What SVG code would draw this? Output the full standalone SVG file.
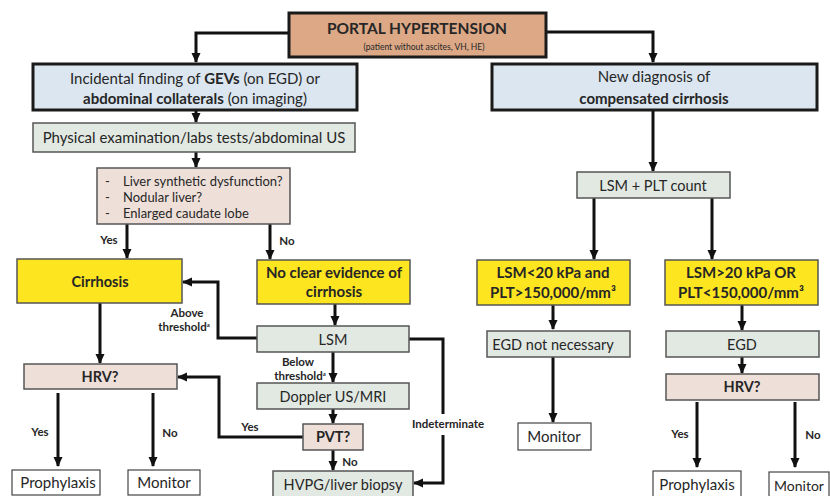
<svg xmlns="http://www.w3.org/2000/svg" width="830" height="496" viewBox="0 0 830 496">
<defs>
<marker id="ah" markerUnits="userSpaceOnUse" markerWidth="10" markerHeight="10" viewBox="0 0 10 10" refX="9" refY="5" orient="auto"><path d="M0,0.5 L10,5 L0,9.5 z" fill="#111"/></marker>
</defs>
<style>
text{font-family:Lato,"Open Sans","Liberation Sans",sans-serif;fill:#262626;text-anchor:middle}
text.l{text-anchor:start}
.b{font-weight:bold}
.s{font-size:11.5px;font-weight:bold}
.c{stroke:#111;stroke-width:3;fill:none}
.top{fill:#dca886;stroke:#1a1a1a;stroke-width:3}
.blue{fill:#dce6f0;stroke:#1a1a1a;stroke-width:3}
.grn{fill:#e2e9e3;stroke:#555;stroke-width:1.5}
.pnk{fill:#eee0d9;stroke:#555;stroke-width:1.5}
.yel{fill:#fde51f;stroke:#555;stroke-width:1.5}
.wht{fill:#fff;stroke:#444;stroke-width:1.2}
</style>
<rect width="830" height="496" fill="#fff"/>

<g id="connectors">
<path class="c" d="M289,33 H196 V62" marker-end="url(#ah)"/>
<path class="c" d="M546,32 H653 V62" marker-end="url(#ah)"/>
<path class="c" d="M196,110 V122" marker-end="url(#ah)"/>
<path class="c" d="M196,152 V167" marker-end="url(#ah)"/>
<path class="c" d="M127,224 V258" marker-end="url(#ah)"/>
<path class="c" d="M270,224 V259" marker-end="url(#ah)"/>
<path class="c" d="M653,110 V171" marker-end="url(#ah)"/>
<path class="c" d="M594,198 V259" marker-end="url(#ah)"/>
<path class="c" d="M712,198 V259" marker-end="url(#ah)"/>
<path class="c" d="M335,304 V325" marker-end="url(#ah)"/>
<path class="c" d="M257,338 H218 V282 H183" marker-end="url(#ah)"/>
<path class="c" d="M100,303 V363" marker-end="url(#ah)"/>
<path class="c" d="M333,352 V382" marker-end="url(#ah)"/>
<path class="c" d="M333,409 V423" marker-end="url(#ah)"/>
<path class="c" d="M303,437 H219 V377 H178" marker-end="url(#ah)"/>
<path class="c" d="M333,450 V470" marker-end="url(#ah)"/>
<path class="c" d="M409,339 H443 V414"/>
<path class="c" d="M443,435 V483 H414" marker-end="url(#ah)"/>
<path class="c" d="M58,393 V466" marker-end="url(#ah)"/>
<path class="c" d="M153,393 V466" marker-end="url(#ah)"/>
<path class="c" d="M553,305 V329" marker-end="url(#ah)"/>
<path class="c" d="M553,357 V422" marker-end="url(#ah)"/>
<path class="c" d="M742,305 V330" marker-end="url(#ah)"/>
<path class="c" d="M742,357 V373" marker-end="url(#ah)"/>
<path class="c" d="M697,402 V467" marker-end="url(#ah)"/>
<path class="c" d="M795,402 V467" marker-end="url(#ah)"/>
<text class="s" x="109" y="244">Yes</text>
<text class="s" x="287" y="245">No</text>
<text class="s" x="187" y="317">Above</text>
<text class="s" x="184" y="331">threshold<tspan font-size="6" dy="-4">a</tspan></text>
<text class="s" x="298" y="366">Below</text>
<text class="s" x="300" y="380">threshold<tspan font-size="6" dy="-4">a</tspan></text>
<text class="s" x="250" y="431">Yes</text>
<text class="s" x="350" y="466">No</text>
<text class="s" x="448" y="428">Indeterminate</text>
<text class="s" x="40" y="436">Yes</text>
<text class="s" x="170" y="437">No</text>
<text class="s" x="680" y="438">Yes</text>
<text class="s" x="813" y="439">No</text>
</g>

<g id="portal">
<rect class="top" x="289" y="13" width="257" height="44"/>
<text class="b" x="417" y="34" font-size="15.5">PORTAL HYPERTENSION</text>
<text x="424" y="50" font-size="8.5">(patient without ascites, VH, HE)</text>
</g>

<g id="incidental">
<rect class="blue" x="33" y="64" width="324" height="46"/>
<text x="195" y="84" font-size="15">Incidental finding of <tspan class="b">GEVs</tspan> (on EGD) or</text>
<text x="195" y="104" font-size="15"><tspan class="b">abdominal collaterals</tspan> (on imaging)</text>
</g>

<g id="newdiag">
<rect class="blue" x="492" y="64" width="325" height="46"/>
<text x="654" y="82" font-size="15">New diagnosis of</text>
<text class="b" x="654" y="104" font-size="15">compensated cirrhosis</text>
</g>

<g id="physical">
<rect class="grn" x="33" y="123" width="322" height="29"/>
<text x="194" y="143" font-size="15">Physical examination/labs tests/abdominal US</text>
</g>

<g id="liver">
<rect class="pnk" x="97" y="168" width="193" height="56"/>
<text class="l" x="105" y="186" font-size="13">-</text>
<text class="l" x="105" y="202" font-size="13">-</text>
<text class="l" x="105" y="218" font-size="13">-</text>
<text class="l" x="123" y="186" font-size="13">Liver synthetic dysfunction?</text>
<text class="l" x="123" y="202" font-size="13">Nodular liver?</text>
<text class="l" x="123" y="218" font-size="13">Enlarged caudate lobe</text>
</g>

<g id="cirrhosis">
<rect class="yel" x="17" y="259" width="165" height="44"/>
<text class="b" x="100" y="287" font-size="14.5">Cirrhosis</text>
</g>

<g id="noclear">
<rect class="yel" x="257" y="260" width="153" height="44"/>
<text class="b" x="334" y="278" font-size="15">No clear evidence of</text>
<text class="b" x="334" y="297" font-size="15">cirrhosis</text>
</g>

<g id="lsm">
<rect class="grn" x="257" y="326" width="152" height="26"/>
<text x="333" y="345" font-size="14.5">LSM</text>
</g>

<g id="doppler">
<rect class="grn" x="257" y="383" width="152" height="26"/>
<text x="333" y="402" font-size="14.5">Doppler US/MRI</text>
</g>

<g id="pvt">
<rect class="pnk" x="303" y="424" width="60" height="26"/>
<text class="b" x="333" y="442" font-size="14.5">PVT?</text>
</g>

<g id="hvpg">
<rect class="grn" x="273" y="471" width="140" height="30"/>
<text x="343" y="490" font-size="14.5">HVPG/liver biopsy</text>
</g>

<g id="hrv-left">
<rect class="pnk" x="24" y="364" width="153" height="25"/>
<text class="b" x="100" y="382" font-size="14.5">HRV?</text>
</g>

<g id="proph-left">
<rect class="wht" x="12" y="470" width="88" height="25"/>
<text x="58" y="488" font-size="15">Prophylaxis</text>
</g>

<g id="monitor-left">
<rect class="wht" x="128" y="470" width="72" height="25"/>
<text x="164" y="488" font-size="15">Monitor</text>
</g>

<g id="lsmplt">
<rect class="grn" x="577" y="172" width="153" height="26"/>
<text x="653" y="191" font-size="14.5">LSM + PLT count</text>
</g>

<g id="lsmlow">
<rect class="yel" x="477" y="260" width="153" height="45"/>
<text class="b" x="553" y="278" font-size="15">LSM&lt;20 kPa and</text>
<text class="b" x="553" y="298" font-size="15">PLT&gt;150,000/mm³</text>
</g>

<g id="lsmhigh">
<rect class="yel" x="665" y="260" width="153" height="45"/>
<text class="b" x="741" y="278" font-size="15">LSM&gt;20 kPa OR</text>
<text class="b" x="741" y="298" font-size="15">PLT&lt;150,000/mm³</text>
</g>

<g id="egdnot">
<rect class="grn" x="487" y="331" width="143" height="26"/>
<text x="553" y="350" font-size="14.5">EGD not necessary</text>
</g>

<g id="monitor-mid">
<rect class="wht" x="518" y="423" width="73" height="27"/>
<text x="554" y="442" font-size="15">Monitor</text>
</g>

<g id="egd">
<rect class="grn" x="666" y="331" width="153" height="26"/>
<text x="742" y="350" font-size="14.5">EGD</text>
</g>

<g id="hrv-right">
<rect class="pnk" x="666" y="374" width="153" height="26"/>
<text class="b" x="742" y="392" font-size="14.5">HRV?</text>
</g>

<g id="proph-right">
<rect class="wht" x="653" y="471" width="88" height="30"/>
<text x="697" y="490" font-size="15">Prophylaxis</text>
</g>

<g id="monitor-right">
<rect class="wht" x="769" y="472" width="60" height="30"/>
<text x="799" y="491" font-size="14">Monitor</text>
</g>
</svg>
